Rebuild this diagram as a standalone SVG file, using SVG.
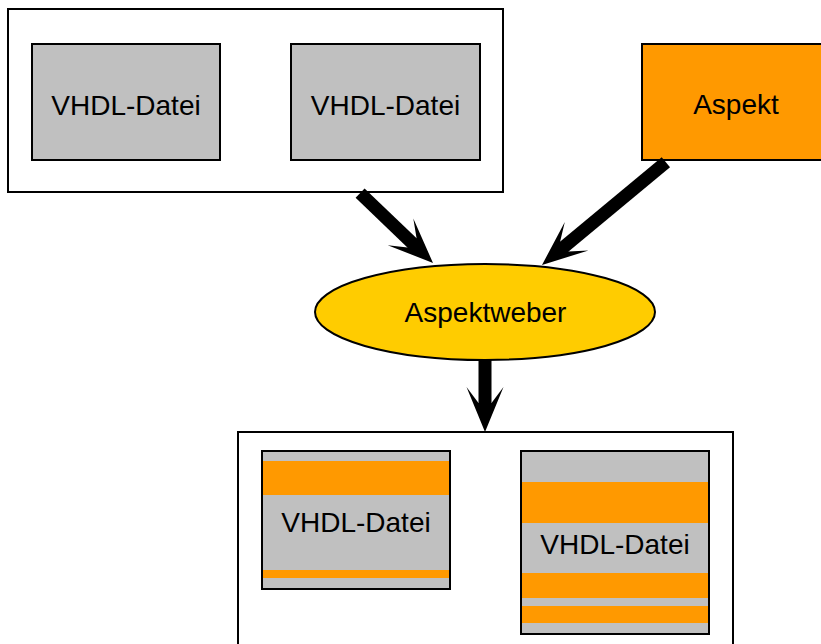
<svg xmlns="http://www.w3.org/2000/svg" width="821" height="644" viewBox="0 0 821 644">
  <style>
    .frame { fill: #ffffff; stroke: #000000; stroke-width: 2; }
    .file { fill: #c0c0c0; stroke: #000000; stroke-width: 2; }
    .aspect { fill: #ff9900; stroke: #000000; stroke-width: 2; }
    .weaver { fill: #ffcc00; stroke: #000000; stroke-width: 2; }
    .band { fill: #ff9900; }
    .label { font-family: "Liberation Sans", Arial, sans-serif; font-size: 28px; fill: #000000; text-anchor: middle; }
    .arrow { fill: #000000; }
  </style>
  <defs>
    <!-- thick barbed arrow pointing along +x; tip at x=0 -->
    <polygon id="arrowHead" points="0,0 -45,-18.5 -29,-6.5 -29,6.5 -45,18.5"/>
  </defs>

  <rect width="821" height="644" fill="#ffffff"/>

  <!-- source files -->
  <g id="sources">
    <rect class="frame" x="8" y="9" width="495" height="183"/>
  </g>
  <g id="vhdl1">
    <rect class="file" x="32" y="44" width="188" height="116"/>
    <text class="label" x="126" y="115">VHDL-Datei</text>
  </g>
  <g id="vhdl2">
    <rect class="file" x="291" y="44" width="189" height="116"/>
    <text class="label" x="385.5" y="115">VHDL-Datei</text>
  </g>

  <!-- aspect -->
  <g id="aspekt">
    <rect class="aspect" x="642" y="44" width="190" height="116"/>
    <text class="label" x="736" y="114">Aspekt</text>
  </g>

  <!-- weaver -->
  <g id="aspektweber">
    <ellipse class="weaver" cx="485" cy="312" rx="170" ry="48"/>
    <text class="label" x="485.5" y="322">Aspektweber</text>
  </g>

  <!-- woven output -->
  <g id="output">
    <rect class="frame" x="238" y="432" width="495" height="220"/>
  </g>
  <g id="woven1">
    <rect class="file" x="262" y="451" width="188" height="138"/>
    <rect class="band" x="263" y="461" width="186" height="34"/>
    <rect class="band" x="263" y="570" width="186" height="8"/>
    <text class="label" x="356" y="532">VHDL-Datei</text>
  </g>
  <g id="woven2">
    <rect class="file" x="521" y="451" width="188" height="183"/>
    <rect class="band" x="522" y="482" width="186" height="41"/>
    <rect class="band" x="522" y="573" width="186" height="25"/>
    <rect class="band" x="522" y="606" width="186" height="17"/>
    <text class="label" x="615" y="554">VHDL-Datei</text>
  </g>

  <!-- connectors -->
  <g id="connectors" class="arrow">
    <g transform="translate(433,263) rotate(43.8)">
      <rect x="-101" y="-6.5" width="75" height="13"/>
      <use href="#arrowHead"/>
    </g>
    <g transform="translate(542,265) rotate(140.3)">
      <rect x="-161" y="-6.5" width="135" height="13"/>
      <use href="#arrowHead"/>
    </g>
    <g transform="translate(485,432) rotate(90)">
      <rect x="-72" y="-6.5" width="46" height="13"/>
      <use href="#arrowHead"/>
    </g>
  </g>
</svg>
